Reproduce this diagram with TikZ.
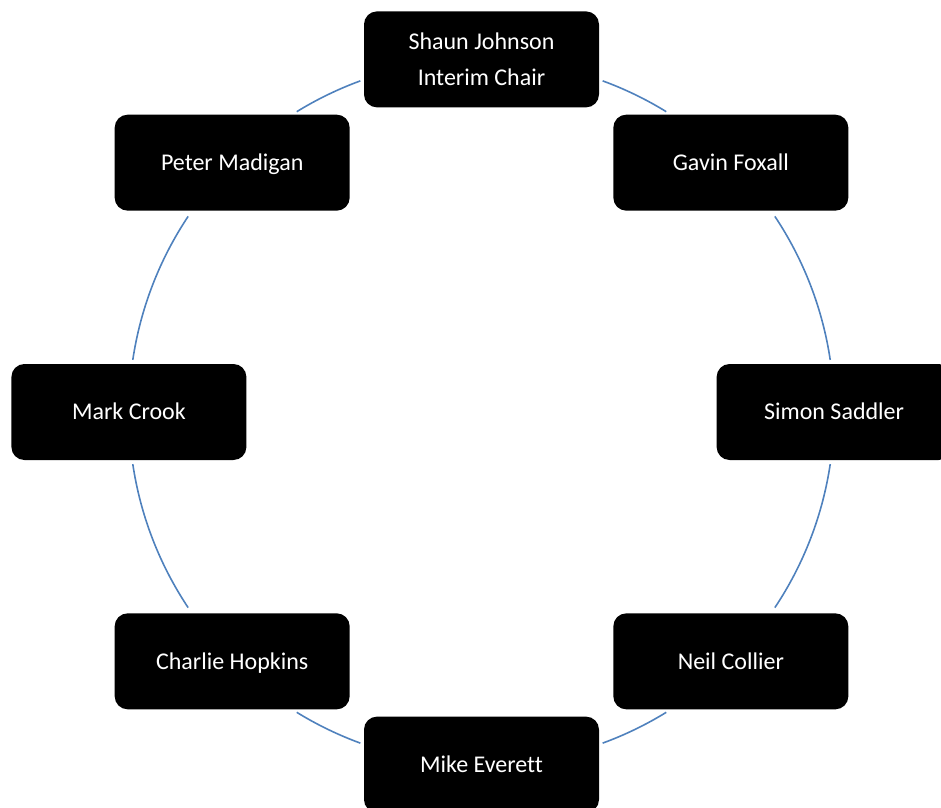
\documentclass[tikz,border=0pt]{standalone}
\usepackage{fontspec}
\setmainfont{Carlito}[Ligatures=NoCommon]
\usetikzlibrary{calc}
\definecolor{arcblue}{RGB}{79,129,189}
\begin{document}
\begin{tikzpicture}[x=1pt,y=1pt,
  member/.style={rectangle, rounded corners=13pt, fill=black, text=white,
    minimum width=235pt, minimum height=96pt, inner sep=0pt, align=center,
    font=\fontsize{24}{36.3}\selectfont},
  single/.style={member, text height=21pt, text depth=5.2pt},
  conn/.style={draw=arcblue, line width=1.6pt}]
\useasboundingbox (0,0) rectangle (941,807);
\coordinate (c) at (481.5,395);
\def\R{352.6}
% arcs between neighbouring members
\draw[conn] (c) ++(110.1:\R) arc[start angle=110.1, end angle=121.6, radius=\R];
\draw[conn] (c) ++(146.3:\R) arc[start angle=146.3, end angle=171.5, radius=\R];
\draw[conn] (c) ++(188.5:\R) arc[start angle=188.5, end angle=213.7, radius=\R];
\draw[conn] (c) ++(238.4:\R) arc[start angle=238.4, end angle=249.9, radius=\R];
\draw[conn] (c) ++(290.1:\R) arc[start angle=290.1, end angle=301.6, radius=\R];
\draw[conn] (c) ++(326.3:\R) arc[start angle=326.3, end angle=351.5, radius=\R];
\draw[conn] (c) ++(8.5:\R) arc[start angle=8.5, end angle=33.7, radius=\R];
\draw[conn] (c) ++(58.4:\R) arc[start angle=58.4, end angle=69.9, radius=\R];
% members
\node[member] (shaun)   at ($(c)+(90:\R)$)  {Shaun Johnson\\Interim Chair};
\node[single] (gavin)   at ($(c)+(45:\R)$)  {Gavin Foxall};
\node[single] (simon)   at ($(c)+(0:\R)$)   {Simon Saddler};
\node[single] (neil)    at ($(c)+(-45:\R)$) {Neil Collier};
\node[single] (mike)    at ($(c)+(-90:\R)$) {Mike Everett};
\node[single] (charlie) at ($(c)+(-135:\R)$){Charlie Hopkins};
\node[single] (mark)    at ($(c)+(180:\R)$) {Mark Crook};
\node[single] (peter)   at ($(c)+(135:\R)$) {Peter Madigan};
\end{tikzpicture}
\end{document}
